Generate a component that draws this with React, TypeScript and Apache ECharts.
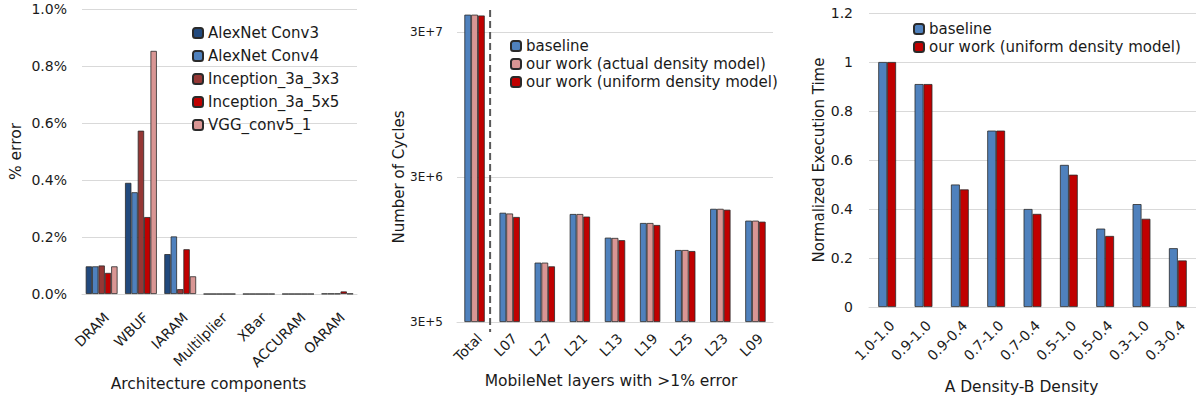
import React, { useEffect, useRef } from "react";
import * as echarts from "echarts";

// ---------- Panel 1: % error by architecture component ----------
const archCategories = ["DRAM", "WBUF", "IARAM", "Multilplier", "XBar", "ACCURAM", "OARAM"];
const alexConv3 = [0.097, 0.39, 0.14, 0, 0, 0, 0.001];
const alexConv4 = [0.097, 0.357, 0.202, 0, 0, 0, 0.001];
const incep3x3 = [0.1, 0.573, 0.017, 0, 0, 0, 0.001];
const incep5x5 = [0.074, 0.27, 0.157, 0, 0, 0, 0.009];
const vggConv51 = [0.097, 0.853, 0.062, 0, 0, 0, 0.001];

// ---------- Panel 2: number of cycles (log scale) ----------
const layerCategories = ["Total", "L07", "L27", "L21", "L13", "L19", "L25", "L23", "L09"];
const cyclesBaseline = [3.95e7, 1.7e6, 7.7e5, 1.667e6, 1.145e6, 1.445e6, 9.41e5, 1.81e6, 1.5e6];
const cyclesActual = [3.95e7, 1.68e6, 7.7e5, 1.667e6, 1.14e6, 1.445e6, 9.41e5, 1.81e6, 1.5e6];
const cyclesUniform = [3.9e7, 1.59e6, 7.26e5, 1.6e6, 1.1e6, 1.4e6, 9.26e5, 1.785e6, 1.476e6];
const cycleTickLabels = ["3E+5", "3E+6", "3E+7"];
const cycleBase = 3e5;

// ---------- Panel 3: normalized execution time ----------
const densityCategories = ["1.0-1.0", "0.9-1.0", "0.9-0.4", "0.7-1.0", "0.7-0.4", "0.5-1.0", "0.5-0.4", "0.3-1.0", "0.3-0.4"];
const timeBaseline = [1.0, 0.91, 0.5, 0.72, 0.4, 0.58, 0.32, 0.42, 0.24];
const timeUniform = [1.0, 0.91, 0.48, 0.72, 0.38, 0.54, 0.29, 0.36, 0.19];

const FONT = "DejaVu Sans";
const TXT = "#1a1a1a";
const GRID_COLOR = "#d9d9d9";
const C_NAVY = "#21497d";
const C_BLUE = "#4f81bd";
const C_DRED = "#953735";
const C_RED = "#c00000";
const C_PINK = "#d99694";
const BORDER = "#2a2a2a";

const toLog = (v: number) => Math.log10(v / cycleBase);

function bar(name: string, data: number[], color: string, idx: number, gap: string, extra: any = {}) {
  return {
    type: "bar",
    name,
    data,
    xAxisIndex: idx,
    yAxisIndex: idx,
    barGap: "0%",
    barCategoryGap: gap,
    itemStyle: { color, borderColor: BORDER, borderWidth: 0.8 },
    ...extra,
  };
}

const catAxis = (idx: number, data: string[], name: string, nameGap: number, margin: number, shiftLeft: number) => ({
  type: "category",
  gridIndex: idx,
  data,
  name,
  nameLocation: "middle",
  nameGap,
  nameTextStyle: { fontSize: 15.5, color: TXT, fontFamily: FONT, padding: [0, shiftLeft * 2, 0, 0] },
  axisLine: { show: true, lineStyle: { color: GRID_COLOR, width: 1 } },
  axisTick: { show: false },
  axisLabel: {
    rotate: 45, fontSize: 14, color: TXT, fontFamily: FONT, margin, interval: 0,
    align: "right", verticalAlign: "top",
  },
});

export default function App() {
  const ref = useRef<HTMLDivElement>(null);
  useEffect(() => {
    document.body.style.margin = "0";
    const chart = echarts.init(ref.current!, null, { renderer: "svg" });
    const legendText = { fontSize: 15, color: TXT, fontFamily: FONT, lineHeight: 18 };
    chart.setOption({
      animation: false,
      textStyle: { fontFamily: FONT },
      grid: [
        { left: 82, top: 9, width: 275, height: 285 },
        { left: 457, top: 32, width: 316, height: 290 },
        { left: 869, top: 13, width: 328, height: 295 },
      ],
      legend: [
        {
          orient: "vertical", left: 187, top: 19, itemWidth: 10, itemHeight: 10, itemGap: 5,
          textStyle: legendText,
          data: ["AlexNet Conv3", "AlexNet Conv4", "Inception_3a_3x3", "Inception_3a_5x5", "VGG_conv5_1"],
        },
        {
          orient: "vertical", left: 505, top: 32, itemWidth: 10, itemHeight: 10, itemGap: 0,
          textStyle: legendText,
          data: ["baseline", "our work (actual density model)", "our work (uniform density model)"],
        },
        {
          orient: "vertical", left: 908, top: 15, itemWidth: 10, itemHeight: 10, itemGap: 0,
          textStyle: legendText,
          data: ["baseline", "our work (uniform density model)"],
        },
      ],
      xAxis: [
        catAxis(0, archCategories, "Architecture components", 80, 16, 11),
        catAxis(1, layerCategories, "MobileNet layers with >1% error", 51, 9, 4),
        catAxis(2, densityCategories, "A Density-B Density", 72, 11, 11),
      ],
      yAxis: [
        {
          type: "value", gridIndex: 0, min: 0, max: 1.0, interval: 0.2,
          name: "% error", nameLocation: "middle", nameGap: 58,
          nameTextStyle: { fontSize: 15.5, color: TXT, fontFamily: FONT },
          axisLabel: { fontSize: 14, margin: 15, color: TXT, fontFamily: FONT, formatter: (v: number) => v.toFixed(1) + "%" },
          splitLine: { lineStyle: { color: GRID_COLOR } },
          axisLine: { show: false }, axisTick: { show: false },
        },
        {
          type: "value", gridIndex: 1, min: 0, max: 2, interval: 1,
          name: "Number of Cycles", nameLocation: "middle", nameGap: 50,
          nameTextStyle: { fontSize: 15, color: TXT, fontFamily: FONT },
          axisLabel: { fontSize: 12, margin: 14, color: TXT, fontFamily: FONT, formatter: (v: number) => cycleTickLabels[Math.round(v)] },
          splitLine: { lineStyle: { color: GRID_COLOR } },
          axisLine: { show: false }, axisTick: { show: false },
        },
        {
          type: "value", gridIndex: 2, min: 0, max: 1.2, interval: 0.2,
          name: "Normalized Execution Time", nameLocation: "middle", nameGap: 43,
          nameTextStyle: { fontSize: 15, color: TXT, fontFamily: FONT },
          axisLabel: { fontSize: 14, margin: 16, color: TXT, fontFamily: FONT },
          splitLine: { lineStyle: { color: GRID_COLOR } },
          axisLine: { show: false }, axisTick: { show: false },
        },
      ],
      series: [
        bar("AlexNet Conv3", alexConv3, C_NAVY, 0, "19%"),
        bar("AlexNet Conv4", alexConv4, C_BLUE, 0, "19%"),
        bar("Inception_3a_3x3", incep3x3, C_DRED, 0, "19%"),
        bar("Inception_3a_5x5", incep5x5, C_RED, 0, "19%"),
        bar("VGG_conv5_1", vggConv51, C_PINK, 0, "19%"),
        bar("baseline", cyclesBaseline.map(toLog), C_BLUE, 1, "42%", { clip: false }),
        bar("our work (actual density model)", cyclesActual.map(toLog), C_PINK, 1, "42%", { clip: false }),
        bar("our work (uniform density model)", cyclesUniform.map(toLog), C_RED, 1, "42%", { clip: false }),
        bar("baseline", timeBaseline, C_BLUE, 2, "51%"),
        bar("our work (uniform density model)", timeUniform, C_RED, 2, "51%"),
      ],
    });
    const x0 = chart.convertToPixel({ xAxisIndex: 1 }, layerCategories[0]) as number;
    const x1 = chart.convertToPixel({ xAxisIndex: 1 }, layerCategories[1]) as number;
    const xm = (x0 + x1) / 2 - 2;
    chart.setOption({
      graphic: [
        {
          type: "line",
          shape: { x1: xm, y1: 10, x2: xm, y2: 332 },
          style: { stroke: "#595959", lineWidth: 2, lineDash: [7, 4] },
          z: 10,
        },
      ],
    });
    return () => chart.dispose();
  }, []);
  return <div ref={ref} style={{ width: 1196, height: 400 }} />;
}
